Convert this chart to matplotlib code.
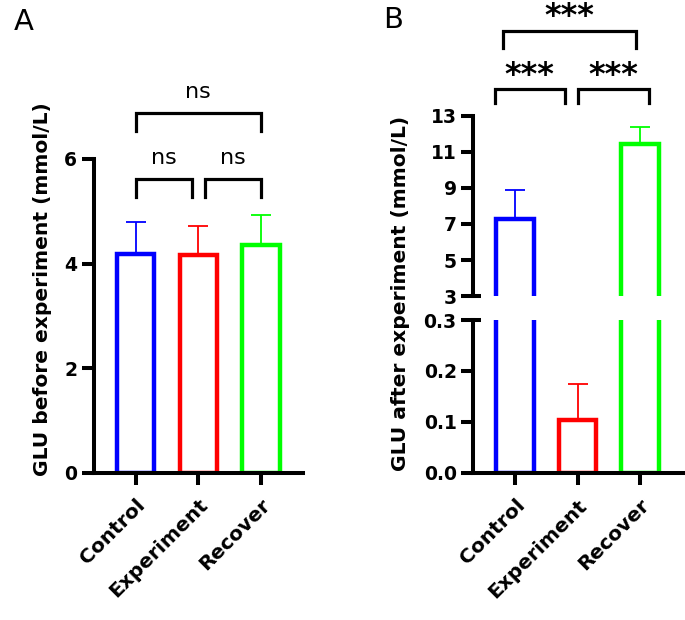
import numpy as np
import matplotlib
matplotlib.use('Agg')
import matplotlib.pyplot as plt
from matplotlib import transforms

# Data
groups = ['Control', 'Experiment', 'Recover']
colors = ['#0000FF', '#FF0000', '#00FF00']

before_mean = [4.19, 4.17, 4.35]
before_sd = [0.61, 0.54, 0.57]

after_mean = [7.28, 0.103, 11.45]
after_sd = [1.62, 0.071, 0.95]

# brackets: (x1, x2, y_top, y_leg_end, label)
brackets_a = [(0.0, 0.9, 5.62, 5.28, 'ns'),
              (1.1, 2.0, 5.62, 5.28, 'ns'),
              (0.0, 2.0, 6.88, 6.54, 'ns')]
brackets_b = [(-0.33, 0.80, 14.48, 13.70, '***'),
              (1.01, 2.14, 14.48, 13.70, '***'),
              (-0.19, 1.93, 17.72, 16.76, '***')]

plt.rcParams['font.family'] = ['DejaVu Sans']

W, H = 685, 620
fig = plt.figure(figsize=(W / 100, H / 100), dpi=100)


def px_axes(left, right, top, bottom):
    return fig.add_axes([left / W, 1 - bottom / H, (right - left) / W, (bottom - top) / H])


def style(ax):
    for s in ['top', 'right']:
        ax.spines[s].set_visible(False)
    for s in ['left', 'bottom']:
        ax.spines[s].set_linewidth(2.9)
    ax.tick_params(width=2.9, length=8.5, labelsize=13.5)
    for lab in ax.get_yticklabels():
        lab.set_fontweight('bold')


def draw_bars(ax, means, sds):
    x = np.arange(len(means))
    ax.bar(x, means, width=0.6, color='white', edgecolor=colors, linewidth=3.2, zorder=2)
    for i in range(len(means)):
        ax.errorbar(x[i], means[i], yerr=[[0], [sds[i]]], color=colors[i], capsize=7.4,
                    elinewidth=1.3, capthick=1.3, zorder=1)


def draw_brackets(ax, brackets, fs, weight, dy):
    for x1, x2, yt, yb, lab in brackets:
        ax.plot([x1, x1, x2, x2], [yb, yt, yt, yb], color='black', lw=2.3,
                clip_on=False, solid_joinstyle='miter')
        ax.text((x1 + x2) / 2, yt + dy, lab, ha='center', va='baseline',
                fontsize=fs, fontweight=weight)


def xlabels(ax):
    ax.set_xticks(range(len(groups)))
    ax.set_xticklabels(groups, rotation=45, ha='right', va='top', rotation_mode='anchor',
                       fontsize=14.5, fontweight='bold')
    ax.tick_params(axis='x', pad=8)


# Panel A
axA = px_axes(94, 303, 159, 472.5)
draw_bars(axA, before_mean, before_sd)
axA.set_xlim(-0.665, 2.67)
axA.set_ylim(0, 6)
axA.set_yticks([0, 2, 4, 6])
style(axA)
xlabels(axA)
draw_brackets(axA, brackets_a, 16, 'normal', 0.28)

# Panel B, lower part
axB1 = px_axes(473.3, 685, 320, 472.7)
draw_bars(axB1, after_mean, after_sd)
axB1.set_xlim(-0.67, 2.72)
axB1.set_ylim(0, 0.3)
axB1.set_yticks([0, 0.1, 0.2, 0.3])
axB1.set_yticklabels(['0.0', '0.1', '0.2', '0.3'])
style(axB1)
xlabels(axB1)

# Panel B, upper part
axB2 = px_axes(473.3, 685, 116, 296)
draw_bars(axB2, after_mean, after_sd)
axB2.set_xlim(-0.67, 2.72)
axB2.set_ylim(3, 13)
axB2.set_yticks([3, 5, 7, 9, 11, 13])
style(axB2)
axB2.spines['bottom'].set_visible(False)
axB2.set_xticks([])
draw_brackets(axB2, brackets_b, 23, 'bold', 0.32)

# break marks pointing inward
for ax, yv in [(axB2, 3), (axB1, 0.3)]:
    tr = transforms.blended_transform_factory(ax.transAxes, ax.transData)
    ax.plot([0, 0.038], [yv, yv], color='black', lw=2.9, transform=tr, clip_on=False,
            solid_capstyle='butt')

# axis titles
fig.text(43 / W, 1 - 289 / H, 'GLU before experiment (mmol/L)', rotation=90,
         ha='center', va='center', fontsize=14.6, fontweight='bold')
fig.text(401 / W, 1 - 293 / H, 'GLU after experiment (mmol/L)', rotation=90,
         ha='center', va='center', fontsize=14.6, fontweight='bold')

# panel letters
fig.text(14 / W, 1 - 30 / H, 'A', fontsize=21, va='baseline')
fig.text(383 / W, 1 - 28 / H, 'B', fontsize=21, va='baseline')

fig.savefig('out.png', dpi=100)
